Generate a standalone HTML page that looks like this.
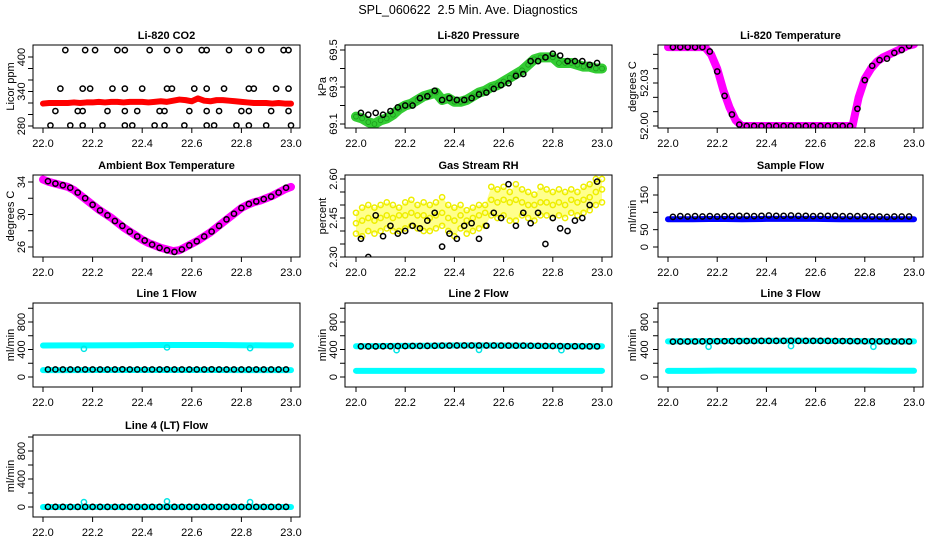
<!DOCTYPE html>
<html><head><meta charset="utf-8"><style>
html,body{margin:0;padding:0;background:#fff}
svg{display:block;font-family:"Liberation Sans",Arial,sans-serif}
</style></head><body>
<svg id="chart" width="936" height="540" viewBox="0 0 936 540" xmlns="http://www.w3.org/2000/svg">
<rect width="936" height="540" fill="#fff"/>
<text x="468" y="14" text-anchor="middle" font-size="12.5" xml:space="preserve">SPL_060622  2.5 Min. Ave. Diagnostics</text>
</svg>
<script>
// ---- shared time arrays ----
const tBand = [22.000,22.025,22.050,22.075,22.100,22.125,22.150,22.175,22.200,22.225,22.250,22.275,22.300,22.325,22.350,22.375,22.400,22.425,22.450,22.475,22.500,22.525,22.550,22.575,22.600,22.625,22.650,22.675,22.700,22.725,22.750,22.775,22.800,22.825,22.850,22.875,22.900,22.925,22.950,22.975,23.000];
const tBlack = [22.02,22.05,22.08,22.11,22.14,22.17,22.20,22.23,22.26,22.29,22.32,22.35,22.38,22.41,22.44,22.47,22.50,22.53,22.56,22.59,22.62,22.65,22.68,22.71,22.74,22.77,22.80,22.83,22.86,22.89,22.92,22.95,22.98];
const tFlat = [22.0,22.1,22.2,22.3,22.4,22.5,22.6,22.7,22.8,22.9,23.0];
const tDip = [22.165,22.5,22.835];
const xTicks = [22.0,22.2,22.4,22.6,22.8,23.0];
const xTickLabels = ["22.0","22.2","22.4","22.6","22.8","23.0"];

// ---- CO2 ----
const co2Red = [319,320,320,320,320,321,320,321,321,322,321,322,322,321,322,322,322,321,322,323,322,324,326,325,323,328,324,323,325,325,324,323,322,321,320,320,320,319,320,319,319];
const co2T412 = [22.09,22.17,22.21,22.30,22.33,22.43,22.50,22.55,22.64,22.66,22.75,22.83,22.88,22.97,22.99];
const co2T345 = [22.07,22.16,22.19,22.28,22.33,22.40,22.50,22.52,22.61,22.66,22.73,22.83,22.85,22.94,22.99];
const co2T306 = [22.05,22.14,22.16,22.26,22.33,22.38,22.47,22.49,22.59,22.66,22.71,22.80,22.83,22.92,22.99];
const co2T281 = [22.03,22.11,22.16,22.24,22.33,22.36,22.45,22.49,22.57,22.66,22.69,22.78,22.83,22.90,23.00];
const co2Levels = [412,345,306,281];
// ---- Pressure ----
const presGreen = [69.14,69.13,69.11,69.10,69.12,69.13,69.15,69.18,69.20,69.21,69.23,69.25,69.26,69.27,69.23,69.24,69.22,69.22,69.23,69.25,69.27,69.28,69.30,69.31,69.33,69.35,69.37,69.39,69.42,69.45,69.46,69.46,69.46,69.43,69.43,69.43,69.42,69.41,69.41,69.40,69.40];
const presBlack = [69.16,69.15,69.16,69.15,69.17,69.19,69.20,69.20,69.24,69.25,69.28,69.23,69.24,69.23,69.23,69.24,69.26,69.27,69.29,69.31,69.32,69.36,69.37,69.44,69.44,69.46,69.48,69.47,69.44,69.44,69.44,69.42,69.43];
// ---- Li-820 temperature ----
const tempMag = [52.055,52.055,52.055,52.055,52.055,52.055,52.055,52.050,52.040,52.025,52.013,52.004,52.000,52.000,52.000,52.000,52.000,52.000,52.000,52.000,52.000,52.000,52.000,52.000,52.000,52.000,52.000,52.000,52.000,52.000,52.000,52.020,52.033,52.040,52.045,52.048,52.050,52.052,52.054,52.056,52.057];
const tempBlack = [52.055,52.055,52.055,52.055,52.055,52.052,52.038,52.021,52.008,52.001,52.000,52.000,52.000,52.000,52.000,52.000,52.000,52.000,52.000,52.000,52.000,52.000,52.000,52.000,52.000,52.012,52.032,52.042,52.046,52.047,52.051,52.053,52.056];
// ---- Ambient box temperature ----
const ambMag = [34.3,34.0,33.8,33.6,33.4,33.0,32.4,31.8,31.2,30.6,30.1,29.6,29.0,28.4,27.9,27.4,26.9,26.5,26.2,25.9,25.7,25.5,25.6,26.0,26.4,26.8,27.3,27.8,28.4,29.0,29.6,30.2,30.8,31.2,31.5,31.7,32.0,32.3,32.7,33.1,33.4];
const ambBlack = [34.1,33.8,33.6,33.3,32.7,32.0,31.2,30.5,29.9,29.2,28.6,27.9,27.3,26.8,26.3,25.9,25.6,25.4,25.7,26.2,26.7,27.3,27.9,28.6,29.4,30.1,30.8,31.3,31.6,31.9,32.2,32.7,33.3];
// ---- Gas stream RH ----
const rhYellowHi = [2.47,2.49,2.50,2.49,2.50,2.51,2.50,2.49,2.51,2.52,2.50,2.51,2.50,2.51,2.53,2.50,2.49,2.50,2.48,2.49,2.50,2.50,2.57,2.56,2.57,2.55,2.58,2.56,2.55,2.54,2.57,2.56,2.55,2.56,2.55,2.56,2.55,2.57,2.58,2.60,2.60];
const rhYellowMid = [2.43,2.44,2.45,2.44,2.45,2.46,2.45,2.46,2.46,2.47,2.46,2.46,2.45,2.46,2.47,2.45,2.44,2.46,2.44,2.45,2.46,2.47,2.52,2.51,2.52,2.51,2.52,2.51,2.50,2.50,2.51,2.51,2.50,2.51,2.50,2.52,2.51,2.52,2.53,2.55,2.56];
const rhYellowLo = [2.39,2.38,2.40,2.39,2.40,2.41,2.40,2.40,2.41,2.42,2.41,2.40,2.40,2.41,2.42,2.40,2.38,2.41,2.39,2.40,2.41,2.42,2.46,2.45,2.46,2.44,2.44,2.46,2.45,2.44,2.46,2.46,2.45,2.46,2.45,2.47,2.46,2.47,2.48,2.50,2.51];
const rhBlack = [2.37,2.30,2.46,2.38,2.42,2.39,2.40,2.42,2.41,2.44,2.47,2.34,2.39,2.37,2.42,2.43,2.37,2.42,2.47,2.45,2.58,2.42,2.47,2.43,2.47,2.35,2.45,2.41,2.40,2.44,2.45,2.50,2.59];
// ---- Sample flow ----
const sampleBlue = [80,80,81,80,81,81,81,80,80,80,80];
const sampleBlack = [87,89,88,89,88,89,88,89,89,90,90,89,90,91,90,90,91,90,90,89,90,90,90,89,89,89,89,88,88,87,88,88,88];
// ---- Line flows ----
const l1CyanHi = [458,460,460,462,463,465,466,466,462,460,460];
const l1CyanLo = [100,100,101,101,101,101,101,101,100,100,100];
const l1Black = [110,110,110,110,110,110,110,110,110,110,112,110,110,110,110,110,112,110,110,110,110,110,112,110,110,110,110,110,110,110,110,110,110];
const l1Dip = [410,430,420];
const l2CyanHi = [448,450,452,455,458,458,457,455,450,448,448];
const l2CyanLo = [90,90,90,90,90,90,90,90,90,90,90];
const l2Black = [445,446,446,447,448,450,450,452,452,453,455,456,457,458,458,458,458,458,458,457,457,456,456,455,454,452,451,450,448,448,447,446,446];
const l2Dip = [390,395,390];
const l3CyanHi = [518,520,522,525,526,527,526,524,520,518,518];
const l3CyanLo = [90,90,92,92,92,92,92,92,92,91,91];
const l3Black = [515,516,516,517,518,520,520,521,522,522,523,524,525,525,526,526,527,526,526,525,525,525,524,523,522,521,520,520,518,518,517,517,517];
const l3Dip = [440,450,440];
const l4Cyan = [0,0,0,0,0,0,0,0,0,0,0];
const l4Black = [2,2,2,2,2,2,2,2,2,2,2,2,2,2,2,2,2,2,2,2,2,2,2,2,2,2,2,2,2,2,2,2,2];
const l4Spike = [70,80,70];

const svg = document.getElementById('chart');
const NS = 'http://www.w3.org/2000/svg';
function mk(tag, attrs, parent){
  const e = document.createElementNS(NS, tag);
  for (const k in attrs) e.setAttribute(k, attrs[k]);
  (parent||svg).appendChild(e); return e;
}
const cols = [{bx0:33,bx1:300,x22:43,x23:291,lab:10,tl:21},{bx0:345,bx1:612,x22:356,x23:602,lab:322,tl:333},{bx0:658,bx1:923,x22:668,x23:914,lab:632,tl:644}];
const rows = [{by0:45,by1:128},{by0:175,by1:257},{by0:303,by1:387},{by0:435,by1:517}];

function panel(name, title, ci, ri, v0, p0, v1, p1, yTicks, yLabels, ylab){
  const c = cols[ci], r = rows[ri];
  const g = mk('g', {});
  
  
  const sx = v => c.x22 + (v - 22) * (c.x23 - c.x22);
  const sy = v => p0 + (v - v0) * (p1 - p0) / (v1 - v0);
  const clipId = 'clip-' + name;
  const cp = mk('clipPath', {id: clipId}, g);
  mk('rect', {x:c.bx0, y:r.by0, width:c.bx1-c.bx0, height:r.by1-r.by0}, cp);
  const plot = mk('g', {'clip-path':'url(#'+clipId+')'}, g);
  
  
  const t = mk('text', {x:(c.bx0+c.bx1)/2, y:r.by0-6, 'text-anchor':'middle', 'font-size':11, 'font-weight':'bold'}, g);
  
  
  t.textContent = title;
  const b = mk('rect', {x:c.bx0, y:r.by0, width:c.bx1-c.bx0, height:r.by1-r.by0, fill:'none', stroke:'#000', 'stroke-width':1}, g);
  
  
  const xa = mk('g', {}, g);
  
  
  xTicks.forEach((v, i) => {
    mk('line', {x1:sx(v), x2:sx(v), y1:r.by1, y2:r.by1+5, stroke:'#000'}, xa);
    const tx = mk('text', {x:sx(v), y:r.by1+19, 'text-anchor':'middle', 'font-size':11}, xa);
    
    
    tx.textContent = xTickLabels[i];
  });
  const ya = mk('g', {}, g);
  
  
  yTicks.forEach(v => {
    mk('line', {x1:c.bx0-5, x2:c.bx0, y1:sy(v), y2:sy(v), stroke:'#000'}, ya);
  });
  yLabels.forEach(v => {
    const y = sy(parseFloat(v));
    const tx = mk('text', {x:c.tl, y:y, 'text-anchor':'middle', 'font-size':11, transform:'rotate(-90 '+c.tl+' '+y+')', dy:'4'}, ya);
    
    
    tx.textContent = v;
  });
  const yc = (r.by0 + r.by1) / 2;
  const yl = mk('text', {x:c.lab, y:yc, 'text-anchor':'middle', 'font-size':11, transform:'rotate(-90 '+c.lab+' '+yc+')', dy:'4'}, g);
  
  
  yl.textContent = ylab;

  return {
    band(ts, vs, color, w, sname){
      const pts = ts.map((t, i) => sx(t) + ',' + sy(vs[i])).join(' ');
      const pl = mk('polyline', {points:pts, fill:'none', stroke:color, 'stroke-width':w, 'stroke-linejoin':'round', 'stroke-linecap':'round'}, plot);
      
      
    },
    area(ts, lo, hi, color, sname){
      const up = ts.map((t, i) => sx(t) + ',' + sy(hi[i]));
      const dn = ts.map((t, i) => sx(t) + ',' + sy(lo[i])).reverse();
      const pg = mk('polygon', {points:up.concat(dn).join(' '), fill:color, opacity:0.45}, plot);
      
      
    },
    pts(ts, vs, color, sname, rad, sw){
      const pg = mk('g', {}, plot);
      
      
      ts.forEach((t, i) => {
        const v = Array.isArray(vs) ? vs[i] : vs;
        const ci2 = mk('circle', {cx:sx(t), cy:sy(v), r:rad||2.6, fill:'none', stroke:color, 'stroke-width':sw||1.5}, pg);
        
        
      });
    }
  };
}

let p = panel('co2-panel', 'Li-820 CO2', 0, 0, 280, 126, 400, 57, [280,300,320,340,360,380,400], ['280','340','400'], 'Licor ppm');
p.band(tBand, co2Red, '#ff0000', 6, 'co2-red-series');
p.pts(co2T412, co2Levels[0], '#000', 'co2-black-412');
p.pts(co2T345, co2Levels[1], '#000', 'co2-black-345');
p.pts(co2T306, co2Levels[2], '#000', 'co2-black-306');
p.pts(co2T281, co2Levels[3], '#000', 'co2-black-281');

p = panel('pressure-panel', 'Li-820 Pressure', 1, 0, 69.1, 124, 69.5, 50, [69.1,69.2,69.3,69.4,69.5], ['69.1','69.3','69.5'], 'kPa');
p.band(tBand, presGreen, '#33cc33', 10, 'pressure-green-series');
p.pts(tBand, presGreen, '#1a9a1a', 'pressure-green-points', 2.4, 0.8);
p.pts(tBlack, presBlack, '#000', 'pressure-black-series');

p = panel('li820-temp-panel', 'Li-820 Temperature', 2, 0, 52.00, 126, 52.03, 83, [52.00,52.01,52.02,52.03,52.04,52.05], ['52.00','52.03'], 'degrees C');
p.band(tBand, tempMag, '#ff00ff', 8, 'temp-magenta-series');
p.pts(tBlack, tempBlack, '#000', 'temp-black-series');

p = panel('ambient-panel', 'Ambient Box Temperature', 0, 1, 26, 247, 34, 182, [26,28,30,32,34], ['26','30','34'], 'degrees C');
p.band(tBand, ambMag, '#ff00ff', 8, 'ambient-magenta-series');
p.pts(tBlack, ambBlack, '#000', 'ambient-black-series');

p = panel('rh-panel', 'Gas Stream RH', 1, 1, 2.30, 257, 2.60, 179, [2.30,2.35,2.40,2.45,2.50,2.55,2.60], ['2.30','2.45','2.60'], 'percent');
p.area(tBand, rhYellowLo, rhYellowHi, '#ffff00', 'rh-yellow-area');
p.pts(tBand, rhYellowHi, '#eeee00', 'rh-yellow-hi');
p.pts(tBand, rhYellowMid, '#eeee00', 'rh-yellow-mid');
p.pts(tBand, rhYellowLo, '#eeee00', 'rh-yellow-lo');
p.pts(tBlack, rhBlack, '#000', 'rh-black-series');

p = panel('sample-flow-panel', 'Sample Flow', 2, 1, 0, 247, 150, 195, [0,50,100,150,200], ['0','50','150'], 'ml/min');
p.band(tFlat, sampleBlue, '#0000ff', 6, 'sample-blue-series');
p.pts(tBlack, sampleBlack, '#000', 'sample-black-series');

const flowTicks = [0,200,400,600,800,1000], flowLabels = ['0','400','800'];
p = panel('line1-panel', 'Line 1 Flow', 0, 2, 0, 377, 800, 322, flowTicks, flowLabels, 'ml/min');
p.band(tFlat, l1CyanHi, '#00ffff', 6, 'line1-cyan-high');
p.band(tFlat, l1CyanLo, '#00ffff', 6, 'line1-cyan-low');
p.pts(tDip, l1Dip, '#00e5e5', 'line1-cyan-dips');
p.pts(tBlack, l1Black, '#000', 'line1-black-series');

p = panel('line2-panel', 'Line 2 Flow', 1, 2, 0, 377, 800, 322, flowTicks, flowLabels, 'ml/min');
p.band(tFlat, l2CyanHi, '#00ffff', 6, 'line2-cyan-high');
p.band(tFlat, l2CyanLo, '#00ffff', 6, 'line2-cyan-low');
p.pts(tDip, l2Dip, '#00e5e5', 'line2-cyan-dips');
p.pts(tBlack, l2Black, '#000', 'line2-black-series');

p = panel('line3-panel', 'Line 3 Flow', 2, 2, 0, 377, 800, 322, flowTicks, flowLabels, 'ml/min');
p.band(tFlat, l3CyanHi, '#00ffff', 6, 'line3-cyan-high');
p.band(tFlat, l3CyanLo, '#00ffff', 6, 'line3-cyan-low');
p.pts(tDip, l3Dip, '#00e5e5', 'line3-cyan-dips');
p.pts(tBlack, l3Black, '#000', 'line3-black-series');

p = panel('line4-panel', 'Line 4 (LT) Flow', 0, 3, 0, 507, 800, 451, flowTicks, flowLabels, 'ml/min');
p.band(tFlat, l4Cyan, '#00ffff', 6, 'line4-cyan-series');
p.pts(tDip, l4Spike, '#00e5e5', 'line4-cyan-spikes');
p.pts(tBlack, l4Black, '#000', 'line4-black-series');
</script>
</body></html>
